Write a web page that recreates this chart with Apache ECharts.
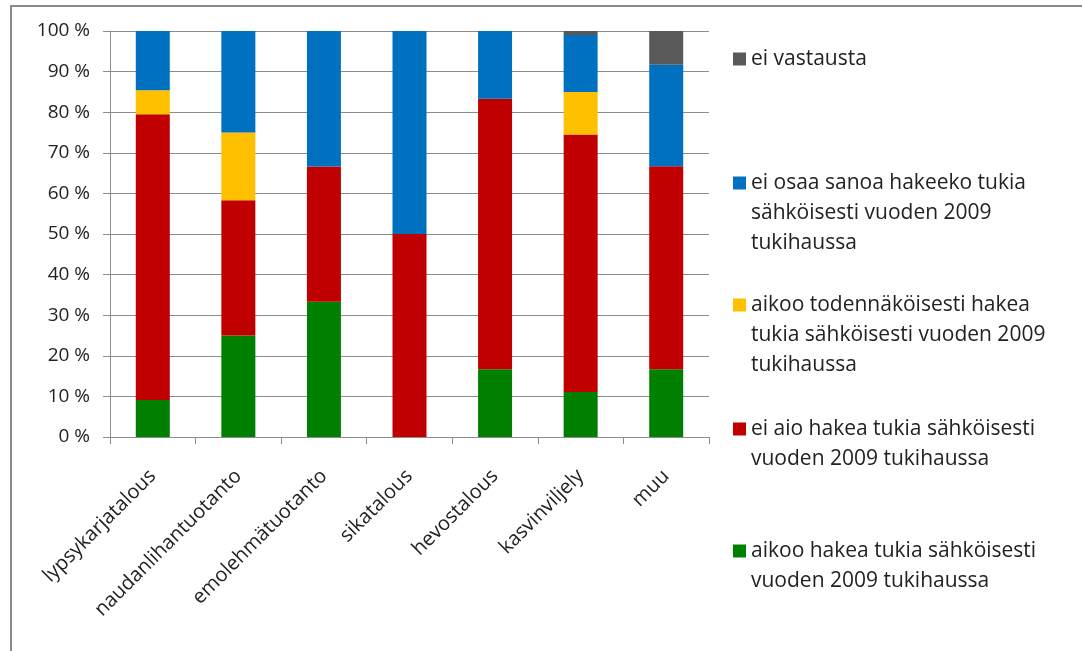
<!DOCTYPE html>
<html>
<head>
<meta charset="utf-8">
<script src="https://cdn.jsdelivr.net/npm/echarts@6/dist/echarts.min.js"></script>
<style>
html,body{margin:0;padding:0;background:#fff;}
#chart{width:1082px;height:651px;}
</style>
</head>
<body>
<div id="chart"></div>
<script>
var categories = ['lypsykarjatalous','naudanlihantuotanto','emolehmätuotanto','sikatalous','hevostalous','kasvinviljely','muu'];
var seriesNames = [
  'aikoo hakea tukia sähköisesti vuoden 2009 tukihaussa',
  'ei aio hakea tukia sähköisesti vuoden 2009 tukihaussa',
  'aikoo todennäköisesti hakea tukia sähköisesti vuoden 2009 tukihaussa',
  'ei osaa sanoa hakeeko tukia sähköisesti vuoden 2009 tukihaussa',
  'ei vastausta'
];
var legendLines = [
  ['aikoo hakea tukia sähköisesti', 'vuoden 2009 tukihaussa'],
  ['ei aio hakea tukia sähköisesti', 'vuoden 2009 tukihaussa'],
  ['aikoo todennäköisesti hakea', 'tukia sähköisesti vuoden 2009', 'tukihaussa'],
  ['ei osaa sanoa hakeeko tukia', 'sähköisesti vuoden 2009', 'tukihaussa'],
  ['ei vastausta']
];
var aikooHakea      = [9.1, 25.0, 33.3, 0,    16.7, 11.1, 16.7];
var eiAio           = [70.4, 33.3, 33.3, 50.0, 66.6, 63.4, 50.0];
var todennakoisesti = [5.9, 16.7, 0,    0,    0,    10.5, 0];
var eiOsaa          = [14.6, 25.0, 33.4, 50.0, 16.7, 14.0, 25.0];
var eiVastausta     = [0,   0,    0,    0,    0,    1.0,  8.3];
var yTicks = [0,10,20,30,40,50,60,70,80,90,100];

var seriesData = [aikooHakea, eiAio, todennakoisesti, eiOsaa, eiVastausta];
var colors = ['#008000', '#C00000', '#FFC000', '#0070C0', '#595959'];
var legendIconY = [551, 429, 305, 183, 59];

var FONT = '"Open Sans", "Liberation Sans", sans-serif';
var chart = echarts.init(document.getElementById('chart'), null, {renderer:'canvas'});

var series = seriesData.map(function(d, i){
  return {
    name: seriesNames[i], type: 'bar', stack: 'total', data: d,
    barWidth: 34, itemStyle: {color: colors[i]}, emphasis: {disabled: true}
  };
});

var LH = 30;
var legends = seriesNames.map(function(name, i){
  var n = legendLines[i].length;
  var pad = [];
  for (var k = 0; k < n - 1; k++) pad.push(' ');
  var H = (2 * n - 1) * LH;
  return {
    data: [name], orient: 'vertical', left: 733, top: Math.round(legendIconY[i] - H / 2),
    padding: 0, itemWidth: 13, itemHeight: 13, selectedMode: false,
    icon: 'rect',
    formatter: function(){ return pad.concat(legendLines[i]).join('\n'); },
    textStyle: {fontFamily: FONT, fontSize: 21, lineHeight: LH, color: '#222'}
  };
});

chart.setOption({
  animation: false,
  backgroundColor: '#fff',
  graphic: [{type: 'rect', shape: {x: 11, y: 6, width: 1200, height: 800},
    style: {fill: 'none', stroke: '#8a8a8a', lineWidth: 2}, silent: true}],
  legend: legends,
  grid: {left: 110, right: 373, top: 31, bottom: 214, containLabel: false},
  xAxis: {
    type: 'category', data: categories,
    axisLine: {lineStyle: {color: '#8c8c8c', width: 1}},
    axisTick: {show: true, length: 7, lineStyle: {color: '#8c8c8c'}},
    axisLabel: {rotate: 45, margin: 36, fontFamily: FONT, fontSize: 20, color: '#222', interval: 0}
  },
  yAxis: {
    type: 'value', min: 0, max: 100, interval: 10,
    axisLine: {show: true, lineStyle: {color: '#8c8c8c'}},
    axisTick: {show: true, length: 7, lineStyle: {color: '#8c8c8c'}},
    splitLine: {lineStyle: {color: '#8c8c8c', width: 1}},
    axisLabel: {margin: 20, fontFamily: FONT, fontSize: 19, color: '#222',
      formatter: function(v){ return yTicks.indexOf(v) >= 0 ? v + ' %' : ''; }}
  },
  series: series
});
</script>
</body>
</html>
